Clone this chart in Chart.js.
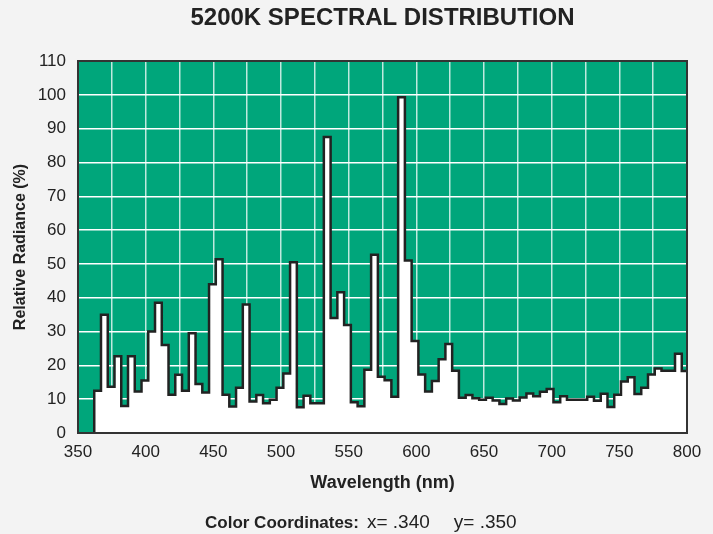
<!DOCTYPE html>
<html>
<head>
<meta charset="utf-8">
<title>5200K Spectral Distribution</title>
<script src="https://cdn.jsdelivr.net/npm/chart.js@4.4.1/dist/chart.umd.min.js"></script>
<style>
  html, body { margin: 0; padding: 0; background: #f3f3f3; }
  #wrap { position: relative; width: 713px; height: 534px; }
  #coords {
    position: absolute; left: 205px; top: 511px;
    font: 19px "Liberation Sans", Arial, sans-serif; color: #222;
    white-space: nowrap;
  }
  #coords b { font-size: 17px; font-weight: bold; margin-right: 8px; }
  #coords .yc { margin-left: 24px; }
</style>
</head>
<body>
<div id="wrap">
  <canvas id="spectrum" width="713" height="534"></canvas>
  <div id="coords"><b>Color Coordinates:</b><span>x= .340</span><span class="yc">y= .350</span></div>
</div>
<script>
// spectral bins, each about 5 nm wide, starting at 362 nm
var binStart = 362;
var binWidth = 4.99;
var radiance = [
  12.5, 35.0, 13.7, 22.7, 8.0, 22.7, 12.3, 15.5, 30.0, 38.5,
  26.0, 11.3, 17.2, 12.5, 29.5, 14.5, 12.0, 44.0, 51.4, 11.3,
  7.8, 13.4, 38.0, 9.3, 11.2, 8.8, 9.8, 13.4, 17.6, 50.5,
  7.6, 11.0, 8.8, 8.8, 87.5, 34.0, 41.6, 31.9, 9.1, 7.9,
  18.7, 52.7, 16.6, 15.6, 10.7, 99.3, 51.0, 27.2, 17.3, 12.3,
  15.4, 21.8, 26.3, 18.4, 10.4, 11.2, 10.3, 9.8, 10.4, 9.6,
  8.6, 10.2, 9.6, 10.5, 11.7, 10.9, 12.2, 13.0, 9.1, 10.9,
  9.8, 9.8, 9.8, 10.7, 9.5, 11.6, 7.7, 11.3, 15.2, 16.5,
  11.5, 13.4, 17.3, 19.1, 18.4, 18.4, 23.4, 18.3
];
var xTicks = [350, 400, 450, 500, 550, 600, 650, 700, 750, 800];

var points = [{x: binStart, y: 0}];
for (var i in radiance) {
  points.push({x: binStart + i * binWidth, y: radiance[i]});
}
points.push({x: 800, y: radiance[radiance.length - 1]});

var plotArea = {
  id: 'plotArea',
  beforeDraw: function(chart) {
    var a = chart.chartArea, ctx = chart.ctx;
    ctx.save();
    ctx.fillStyle = '#00a67b';
    ctx.fillRect(a.left, a.top, a.right - a.left, a.bottom - a.top);
    ctx.restore();
  },
  afterDatasetsDraw: function(chart) {
    var a = chart.chartArea, ctx = chart.ctx;
    ctx.save();
    ctx.strokeStyle = '#333';
    ctx.lineWidth = 2;
    ctx.strokeRect(a.left, a.top, a.right - a.left, a.bottom - a.top);
    ctx.restore();
  }
};

var ctx = document.getElementById('spectrum');
var chart = new Chart(ctx, {
  type: 'line',
  data: {
    datasets: [{
      label: 'Relative Radiance',
      data: points,
      stepped: true,
      fill: 'origin',
      backgroundColor: '#ffffff',
      borderColor: '#222',
      borderWidth: 2.5,
      pointRadius: 0,
      tension: 0
    }]
  },
  options: {
    responsive: false,
    animation: false,
    layout: { padding: { left: 0, right: 26, top: 0, bottom: 0 } },
    plugins: {
      legend: { display: false },
      tooltip: { enabled: false },
      title: {
        display: true,
        fullSize: false,
        text: '5200K SPECTRAL DISTRIBUTION',
        color: '#222',
        font: { family: '"Liberation Sans", Arial, sans-serif', size: 24, weight: 'bold' },
        padding: { top: 4, bottom: 28.2 }
      }
    },
    scales: {
      x: {
        type: 'linear',
        min: 350,
        max: 800,
        afterFit: function(scale) { scale.height = 101; },
        border: { display: false },
        grid: { color: 'rgba(255,255,255,0.75)', lineWidth: 1.5, drawTicks: false },
        ticks: {
          stepSize: 25,
          padding: 9,
          color: '#222',
          maxRotation: 0,
          font: { family: '"Liberation Sans", Arial, sans-serif', size: 17 },
          callback: function(v) { return xTicks.indexOf(v) >= 0 ? v : ''; }
        },
        title: {
          display: true,
          text: 'Wavelength (nm)',
          color: '#222',
          font: { family: '"Liberation Sans", Arial, sans-serif', size: 18, weight: 'bold' },
          padding: { top: 0, bottom: 40 }
        }
      },
      y: {
        min: 0,
        max: 110,
        afterFit: function(scale) { scale.width = 78; },
        border: { display: false },
        grid: { color: '#ffffff', lineWidth: 1.5, drawTicks: false },
        ticks: {
          stepSize: 10,
          padding: 12,
          color: '#222',
          font: { family: '"Liberation Sans", Arial, sans-serif', size: 17 }
        },
        title: {
          display: true,
          text: 'Relative Radiance (%)',
          color: '#222',
          font: { family: '"Liberation Sans", Arial, sans-serif', size: 16, weight: 'bold' },
          padding: { top: 11, bottom: 0 }
        }
      }
    }
  },
  plugins: [plotArea]
});
</script>
</body>
</html>
